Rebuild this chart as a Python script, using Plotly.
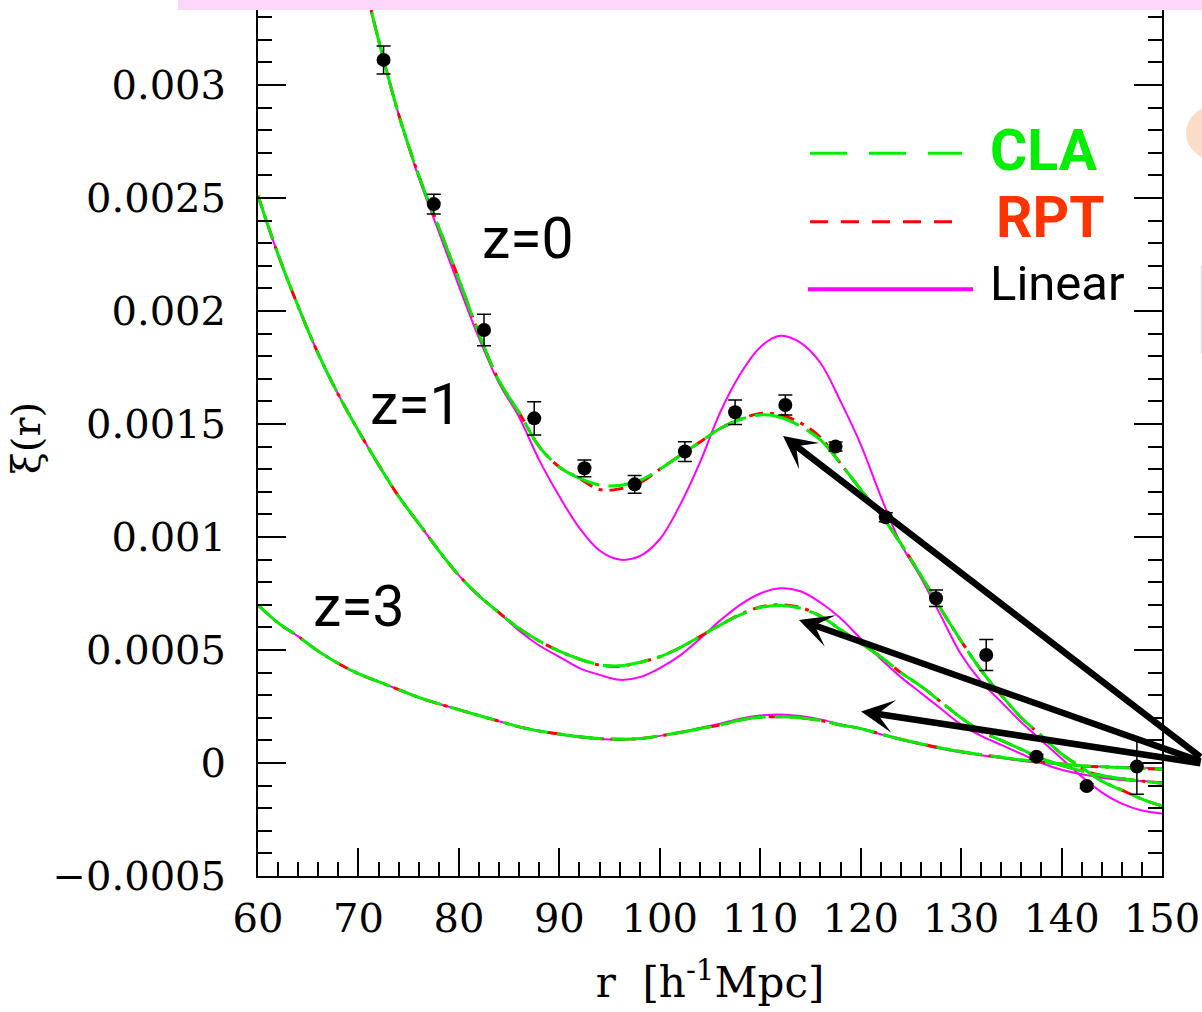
import plotly.graph_objects as go

# ---------------- data ----------------
r_z0 = [70, 72, 74, 76, 78, 80, 82, 84, 86, 88, 90, 92, 94, 96, 98, 100, 102, 104, 106, 108,
        110, 112, 114, 116, 118, 120, 122, 124, 126, 128, 130, 132, 134, 136, 138, 140, 142, 144, 146, 148, 150]
z0_cla = [0.00356, 0.00320, 0.00287, 0.00260, 0.00237, 0.00214, 0.00190, 0.00169, 0.00155, 0.00140,
          0.00131, 0.00126, 0.00123, 0.001228, 0.00125, 0.00130, 0.00136, 0.00142, 0.00148, 0.00152,
          0.00154, 0.00153, 0.00149, 0.00143, 0.001325, 0.00121, 0.00110, 0.00097, 0.00083, 0.00068,
          0.00054, 0.00041, 0.00030, 0.00020, 0.00012, 0.00004, -0.00002, -0.00008, -0.00012, -0.00016, -0.00019]
z0_rpt = [0.00356, 0.00320, 0.00287, 0.00260, 0.00237, 0.00214, 0.00190, 0.00169, 0.00155, 0.00140,
          0.00131, 0.00126, 0.00121, 0.001213, 0.00124, 0.00130, 0.00136, 0.00142, 0.00148, 0.00152,
          0.001547, 0.00154, 0.001505, 0.00144, 0.001325, 0.00121, 0.00110, 0.00097, 0.00083, 0.00068,
          0.00054, 0.00041, 0.00030, 0.00020, 0.00012, 0.00004, -0.00002, -0.00008, -0.00012, -0.00016, -0.00019]
z0_lin = [0.00356, 0.00320, 0.00287, 0.00259, 0.00235, 0.00211, 0.00188, 0.00168, 0.00153, 0.00134,
          0.00118, 0.00104, 0.00094, 0.000900, 0.000915, 0.00099, 0.00114, 0.00133, 0.00155, 0.00172,
          0.00184, 0.00189, 0.00186, 0.00177, 0.00160, 0.00141, 0.00118, 0.00097, 0.00082, 0.00065,
          0.00048, 0.00036, 0.00027, 0.00018, 0.00010, 0.00002, -0.00006, -0.00013, -0.00018, -0.00021, -0.000223]

r_z13 = [60, 62, 64, 66, 68, 70, 72, 74, 76, 78, 80, 82, 84, 86, 88, 90, 92, 94, 96, 98, 100, 102, 104, 106,
         108, 110, 112, 114, 116, 118, 120, 122, 124, 126, 128, 130, 132, 134, 136, 138, 140, 142, 144, 146, 148, 150]
z1_cla = [0.00251, 0.00225, 0.00202, 0.00181, 0.00163, 0.00147, 0.00132, 0.00118, 0.00106, 0.00094,
          0.00083, 0.00074, 0.000665, 0.000595, 0.00054, 0.000495, 0.00046, 0.000435, 0.00043, 0.000445,
          0.00047, 0.00051, 0.00056, 0.00061, 0.000655, 0.000688, 0.000697, 0.000685, 0.00065, 0.00059,
          0.00053, 0.00047, 0.00040, 0.00034, 0.00027, 0.00020, 0.00014, 0.00010, 0.00006, 0.00002,
          -0.00001, -0.000035, -0.000055, -0.00007, -0.00008, -0.00009]
z1_rpt = [0.00251, 0.00225, 0.00202, 0.00181, 0.00163, 0.00147, 0.00132, 0.00118, 0.00106, 0.00094,
          0.00083, 0.00074, 0.000665, 0.000595, 0.00054, 0.000495, 0.00046, 0.000433, 0.000428, 0.000445,
          0.00047, 0.00051, 0.00056, 0.00061, 0.000657, 0.00069, 0.0007, 0.000688, 0.00065, 0.00059,
          0.00053, 0.00047, 0.00040, 0.00034, 0.00027, 0.00020, 0.00014, 0.00010, 0.00006, 0.00002,
          -0.00001, -0.000035, -0.000055, -0.00007, -0.00008, -0.00009]
z1_lin = [0.00251, 0.00225, 0.00202, 0.00181, 0.00163, 0.00147, 0.00132, 0.00118, 0.00106, 0.00094,
          0.00083, 0.00074, 0.000665, 0.000585, 0.00052, 0.00047, 0.00042, 0.00039, 0.000368, 0.00038,
          0.00042, 0.000475, 0.00055, 0.00063, 0.00070, 0.00075, 0.000773, 0.00076, 0.00071, 0.00064,
          0.00055, 0.00046, 0.00038, 0.00031, 0.00024, 0.00017, 0.00012, 0.00008, 0.00004, 0.0,
          -0.00003, -0.00005, -0.000065, -0.000075, -0.00008, -0.000085]

z3_cla = [0.000699, 0.00062, 0.00056, 0.000495, 0.00044, 0.000395, 0.00036, 0.000325, 0.00029, 0.000262,
          0.000236, 0.00021, 0.000185, 0.00016, 0.000142, 0.000128, 0.000116, 0.000108, 0.000105, 0.000108,
          0.00012, 0.000135, 0.000152, 0.000168, 0.00019, 0.000202, 0.000205, 0.0002, 0.000188, 0.000168,
          0.000152, 0.000128, 0.000105, 0.000085, 0.000066, 0.00005, 0.000037, 0.000025, 0.000013, 0.000004,
          -0.000004, -0.000012, -0.000017, -0.00002, -0.000024, -0.000028]
z3_rpt = z3_cla
z3_lin = [0.000699, 0.00062, 0.00056, 0.000495, 0.00044, 0.000395, 0.00036, 0.000325, 0.00029, 0.000262,
          0.000236, 0.00021, 0.000185, 0.00016, 0.000142, 0.000127, 0.000114, 0.000106, 0.000103, 0.000107,
          0.00012, 0.000136, 0.000155, 0.000174, 0.000196, 0.00021, 0.000215, 0.000208, 0.000193, 0.000171,
          0.000152, 0.000127, 0.000103, 0.000082, 0.000063, 0.000047, 0.000034, 0.000022, 0.00001, 0.000001,
          -0.000006, -0.000012, -0.000016, -0.000019, -0.000021, -0.000024]

r_data = [72.5, 77.5, 82.5, 87.5, 92.5, 97.5, 102.5, 107.5, 112.5, 117.5, 122.5, 127.5, 132.5, 137.5, 142.5, 147.5]
xi_data = [0.003111, 0.002473, 0.001916, 0.001525, 0.001304, 0.001233, 0.001378, 0.001552, 0.001584,
           0.0014, 0.001087, 0.000729, 0.000478, 0.000028, -0.000102, -0.000016]
xi_err = [0.000062, 0.000044, 0.00007, 0.000074, 0.000037, 0.000039, 0.000044, 0.000054, 0.000044,
          0.00002, 0.00002, 0.000037, 0.000069, 0.00001, 0.00001, 0.000122]

x_ticks = [60, 70, 80, 90, 100, 110, 120, 130, 140, 150]
y_ticks = [-0.0005, 0, 0.0005, 0.001, 0.0015, 0.002, 0.0025, 0.003]
y_ticktext = ["\u22120.0005", "0", "0.0005", "0.001", "0.0015", "0.002", "0.0025", "0.003"]

GREEN = "#00EE00"
RED = "#FF0000"
MAG = "#FF00FF"

fig = go.Figure()

curves = [(r_z0, z0_lin, z0_rpt, z0_cla), (r_z13, z1_lin, z1_rpt, z1_cla), (r_z13, z3_lin, z3_rpt, z3_cla)]
for rr, lin, rpt, cla in curves:
    fig.add_trace(go.Scatter(x=rr, y=lin, mode="lines", line=dict(color=MAG, width=2, shape="spline"),
                             hoverinfo="skip"))
for rr, lin, rpt, cla in curves:
    fig.add_trace(go.Scatter(x=rr, y=rpt, mode="lines",
                             line=dict(color=RED, width=3, shape="spline", dash="14px,7px,4px,7px"),
                             hoverinfo="skip"))
for rr, lin, rpt, cla in curves:
    fig.add_trace(go.Scatter(x=rr, y=cla, mode="lines",
                             line=dict(color=GREEN, width=3, shape="spline", dash="46px,9px"),
                             hoverinfo="skip"))

fig.add_trace(go.Scatter(x=r_data, y=xi_data, mode="markers",
                         marker=dict(color="black", size=14),
                         error_y=dict(type="data", array=xi_err, color="black", thickness=1.5, width=7)))

# ---------------- decorations ----------------
def px(xp):
    return (xp - 258) / 904.0

def py(yp):
    return (876 - yp) / 876.0

shapes = [
    dict(type="rect", xref="paper", yref="paper", x0=px(178), x1=px(1210), y0=py(10), y1=py(-5),
         fillcolor="#FCD6FB", line=dict(width=0), layer="above"),
    dict(type="circle", xref="paper", yref="paper", x0=px(1186), x1=px(1244), y0=py(160), y1=py(106),
         fillcolor="#FBDCC6", line=dict(width=0)),
    dict(type="line", xref="paper", yref="paper", x0=px(1201.5), x1=px(1201.5), y0=py(353), y1=py(266),
         line=dict(color="#D0E4F4", width=1.5)),
    dict(type="line", xref="paper", yref="paper", x0=px(810), x1=px(962), y0=py(153.3), y1=py(153.3),
         line=dict(color=GREEN, width=3, dash="37px,22px")),
    dict(type="line", xref="paper", yref="paper", x0=px(810), x1=px(955), y0=py(221.7), y1=py(221.7),
         line=dict(color=RED, width=3, dash="18px,13px")),
    dict(type="line", xref="paper", yref="paper", x0=px(808), x1=px(973), y0=py(289.3), y1=py(289.3),
         line=dict(color=MAG, width=4)),
]

annotations = [
    dict(text="<b>CLA</b>", x=px(988), y=py(151), xref="paper", yref="paper", xanchor="left", yanchor="middle",
         showarrow=False, font=dict(family="Roboto", size=57, color=GREEN)),
    dict(text="<b>RPT</b>", x=px(994), y=py(217), xref="paper", yref="paper", xanchor="left", yanchor="middle",
         showarrow=False, font=dict(family="Roboto", size=57, color="#FF3300")),
    dict(text="Linear", x=px(988), y=py(283), xref="paper", yref="paper", xanchor="left", yanchor="middle",
         showarrow=False, font=dict(family="Roboto", size=49, color="black")),
    dict(text="z=0", x=px(528), y=py(238), xref="paper", yref="paper", xanchor="center", yanchor="middle",
         showarrow=False, font=dict(family="Roboto", size=57, color="black")),
    dict(text="z=1", x=px(416), y=py(404), xref="paper", yref="paper", xanchor="center", yanchor="middle",
         showarrow=False, font=dict(family="Roboto", size=57, color="black")),
    dict(text="z=3", x=px(359), y=py(607), xref="paper", yref="paper", xanchor="center", yanchor="middle",
         showarrow=False, font=dict(family="Roboto", size=57, color="black")),
]

arrow_heads = [(112.27, 0.001447, 439, 322), (113.86, 0.000633, 423, 142), (120.04, 0.000228, 361, 52)]
for hx, hy, ax, ay in arrow_heads:
    annotations.append(dict(x=hx, y=hy, xref="x", yref="y", ax=ax, ay=ay, text="", showarrow=True,
                            arrowhead=3, arrowsize=0.85, arrowwidth=6.5, arrowcolor="black"))

fig.update_layout(
    width=1202, height=1012,
    margin=dict(l=258, r=40, t=0, b=136),
    paper_bgcolor="white", plot_bgcolor="white",
    showlegend=False,
    shapes=shapes, annotations=annotations,
    xaxis=dict(range=[60, 150], tickmode="array", tickvals=x_ticks, ticks="inside", ticklen=28, tickwidth=1.5,
               tickcolor="black", showline=True, linecolor="black", linewidth=2, mirror=False,
               showgrid=False, zeroline=False,
               minor=dict(tick0=60, dtick=2, ticks="inside", ticklen=14, tickwidth=1.5, tickcolor="black",
                          showgrid=False),
               tickfont=dict(family="DejaVu Serif", size=40, color="black"), ticklabelstandoff=6,
               title=dict(text="r  [h<sup>-1</sup>Mpc]", font=dict(family="DejaVu Serif", size=42, color="black"),
                          standoff=28)),
    yaxis=dict(range=[-0.0005, 763 / 226000.0], tickmode="array", tickvals=y_ticks, ticktext=y_ticktext,
               ticks="inside", ticklen=28, tickwidth=2, tickcolor="black", showline=True, linecolor="black",
               linewidth=2, mirror="allticks", showgrid=False, zeroline=False,
               minor=dict(tick0=0, dtick=0.0001, ticks="inside", ticklen=14, tickwidth=2, tickcolor="black",
                          showgrid=False),
               tickfont=dict(family="DejaVu Serif", size=40, color="black"), ticklabelstandoff=22,
               title=dict(text="\u03be(r)", font=dict(family="DejaVu Serif", size=40, color="black"), standoff=0)),
)

fig.write_html("out.html")
